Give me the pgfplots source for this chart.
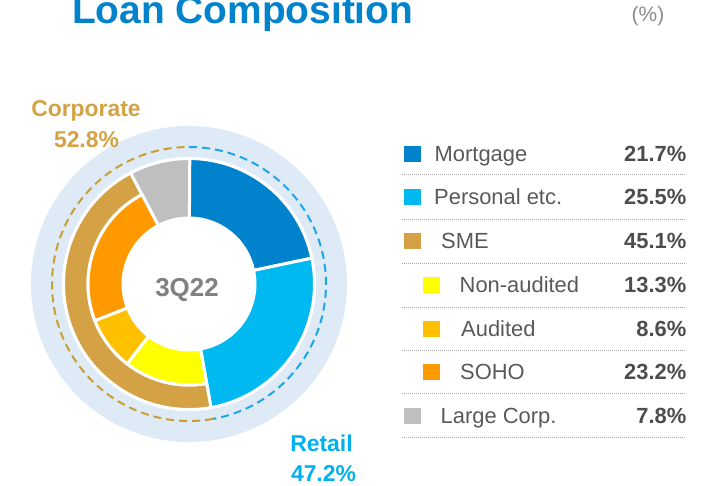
\documentclass[border=0pt]{standalone}
\usepackage{fontspec}
\setmainfont{Liberation Sans}
\usepackage{pgfplots}
\usepackage{pgfplotstable}
\pgfplotsset{compat=1.18}

\definecolor{cTitle}{HTML}{0082CC}
\definecolor{cMortgage}{HTML}{0082CC}
\definecolor{cPersonal}{HTML}{00B9F0}
\definecolor{cSME}{HTML}{D4A245}
\definecolor{cNonAud}{HTML}{FFFF00}
\definecolor{cAud}{HTML}{FFC000}
\definecolor{cSOHO}{HTML}{FF9900}
\definecolor{cLarge}{HTML}{BFBFBF}
\definecolor{cRing}{HTML}{DEEAF6}
\definecolor{cRetailDash}{HTML}{1CA7EC}
\definecolor{cCorpDash}{HTML}{C9A030}
\definecolor{cRetailTxt}{HTML}{00B0F0}
\definecolor{cCorpTxt}{HTML}{D4A245}
\definecolor{cLabel}{HTML}{595959}
\definecolor{cValue}{HTML}{4D4D4D}

% shares in %, radii in px
\pgfplotstableread{
name share rin rout color
Mortgage 21.7 66 125.5 cMortgage
Personal 25.5 66 125.5 cPersonal
SME 45.1 101 125.5 cSME
LargeCorp 7.8 66 125.5 cLarge
}\outerring
\pgfplotstableread{
name share rin rout color
NonAudited 13.3 66 101 cNonAud
Audited 8.6 66 101 cAud
SOHO 23.2 66 101 cSOHO
}\smering
\pgfplotstableread{
name share color
Retail 47.2 cRetailDash
Corporate 52.8 cCorpDash
}\segments

\newcount\wi
% #1 table, #2 start (in % clockwise from top)
\newcommand\drawring[2]{%
  \pgfmathsetmacro\curang{90-3.6*#2}%
  \pgfplotstablegetrowsof{#1}\edef\nrows{\pgfplotsretval}%
  \wi=0
  \loop\ifnum\wi<\nrows
    \pgfplotstablegetelem{\the\wi}{share}\of{#1}\let\sh\pgfplotsretval
    \pgfplotstablegetelem{\the\wi}{rin}\of{#1}\let\rin\pgfplotsretval
    \pgfplotstablegetelem{\the\wi}{rout}\of{#1}\let\rout\pgfplotsretval
    \pgfplotstablegetelem{\the\wi}{color}\of{#1}\let\col\pgfplotsretval
    \pgfmathsetmacro\nextang{\curang-3.6*\sh}%
    \edef\temp{\noexpand\fill[\col, draw=white, line width=3bp, line join=round]
      (axis cs:189,202) ++(\curang:\rout bp)
      arc[start angle=\curang, end angle=\nextang, radius=\rout bp]
      -- ([shift={(\nextang:\rin bp)}]axis cs:189,202)
      arc[start angle=\nextang, end angle=\curang, radius=\rin bp] -- cycle;}%
    \temp
    \global\let\curang\nextang
    \advance\wi by 1
  \repeat}
% dashed outer arcs
\newcommand\drawarcs[2]{%
  \pgfmathsetmacro\curang{90}%
  \pgfplotstablegetrowsof{#1}\edef\nrows{\pgfplotsretval}%
  \wi=0
  \loop\ifnum\wi<\nrows
    \pgfplotstablegetelem{\the\wi}{share}\of{#1}\let\sh\pgfplotsretval
    \pgfplotstablegetelem{\the\wi}{color}\of{#1}\let\col\pgfplotsretval
    \pgfmathsetmacro\nextang{\curang-3.6*\sh}%
    \edef\temp{\noexpand\draw[\col, line width=2bp, dash pattern=on 8bp off 5bp]
      (axis cs:189,202) ++(\curang:#2 bp)
      arc[start angle=\curang, end angle=\nextang, radius=#2 bp];}%
    \temp
    \global\let\curang\nextang
    \advance\wi by 1
  \repeat}

\newcommand\lgfont{\fontsize{22}{26}\selectfont}

\begin{document}
\begin{tikzpicture}
\begin{axis}[scale only axis, width=717bp, height=486bp,
  xmin=0, xmax=717, ymin=0, ymax=486, hide axis, clip=false]

% background ring
\fill[cRing] (axis cs:189,202) circle[radius=158bp];
\fill[white] (axis cs:189,202) circle[radius=127bp];
\drawarcs{\segments}{137}

\drawring{\outerring}{0}
\drawring{\smering}{47.2}% starts after Retail (Mortgage + Personal)

\node[anchor=base, inner sep=0, text=gray, font=\fontsize{26}{30}\selectfont\bfseries]
  at (axis cs:187,189) {3Q22};

% title
\node[anchor=base west, inner sep=0, text=cTitle, font=\fontsize{39}{46}\selectfont\bfseries]
  at (axis cs:72,462) {Loan Composition};
\node[anchor=base west, inner sep=0, text=black!45, font=\fontsize{21}{25}\selectfont]
  at (axis cs:631.5,464) {(\%)};

% ring labels
\node[anchor=base, inner sep=0, text=cCorpTxt, font=\fontsize{23}{27}\selectfont\bfseries]
  at (axis cs:86,369) {Corporate};
\node[anchor=base, inner sep=0, text=cCorpTxt, font=\fontsize{23}{27}\selectfont\bfseries]
  at (axis cs:86.5,338) {52.8\%};
\node[anchor=base, inner sep=0, text=cRetailTxt, font=\fontsize{23}{27}\selectfont\bfseries]
  at (axis cs:321.5,34) {Retail};
\node[anchor=base, inner sep=0, text=cRetailTxt, font=\fontsize{23}{27}\selectfont\bfseries]
  at (axis cs:323.5,5) {47.2\%};

% legend table
\pgfplotsinvokeforeach{312,267,223,179,136,93,49}{
  \draw[black!35, line width=0.8bp, dash pattern=on 1bp off 1bp] (axis cs:402,#1) -- (axis cs:686,#1);
}

\fill[cMortgage] (axis cs:404,323.5) rectangle (axis cs:420.5,339.5);
\fill[cPersonal] (axis cs:404,280.5) rectangle (axis cs:420.5,296.5);
\fill[cSME]      (axis cs:404,236.5) rectangle (axis cs:420.5,252.5);
\fill[cNonAud]   (axis cs:423,192.5) rectangle (axis cs:439.5,208.5);
\fill[cAud]      (axis cs:423,148.5) rectangle (axis cs:439.5,164.5);
\fill[cSOHO]     (axis cs:423,105.5) rectangle (axis cs:439.5,121.5);
\fill[cLarge]    (axis cs:404,61.5)  rectangle (axis cs:420.5,77.5);

\node[anchor=base west, inner sep=0, text=cLabel, font=\lgfont] at (axis cs:434.5,324) {Mortgage};
\node[anchor=base west, inner sep=0, text=cLabel, font=\lgfont] at (axis cs:434,281) {Personal etc.};
\node[anchor=base west, inner sep=0, text=cLabel, font=\lgfont] at (axis cs:441,237) {SME};
\node[anchor=base west, inner sep=0, text=cLabel, font=\lgfont] at (axis cs:459.5,193) {Non-audited};
\node[anchor=base west, inner sep=0, text=cLabel, font=\lgfont] at (axis cs:461,149) {Audited};
\node[anchor=base west, inner sep=0, text=cLabel, font=\lgfont] at (axis cs:460,106) {SOHO};
\node[anchor=base west, inner sep=0, text=cLabel, font=\lgfont] at (axis cs:440.5,62) {Large Corp.};

\node[anchor=base east, inner sep=0, text=cValue, font=\lgfont\bfseries] at (axis cs:686.5,324) {21.7\%};
\node[anchor=base east, inner sep=0, text=cValue, font=\lgfont\bfseries] at (axis cs:686.5,281) {25.5\%};
\node[anchor=base east, inner sep=0, text=cValue, font=\lgfont\bfseries] at (axis cs:686.5,237) {45.1\%};
\node[anchor=base east, inner sep=0, text=cValue, font=\lgfont\bfseries] at (axis cs:686.5,193) {13.3\%};
\node[anchor=base east, inner sep=0, text=cValue, font=\lgfont\bfseries] at (axis cs:686.5,149) {8.6\%};
\node[anchor=base east, inner sep=0, text=cValue, font=\lgfont\bfseries] at (axis cs:686.5,106) {23.2\%};
\node[anchor=base east, inner sep=0, text=cValue, font=\lgfont\bfseries] at (axis cs:686.5,62) {7.8\%};
\end{axis}
\pgfresetboundingbox
\path (current axis.south west) rectangle (current axis.north east);
\end{tikzpicture}
\end{document}
